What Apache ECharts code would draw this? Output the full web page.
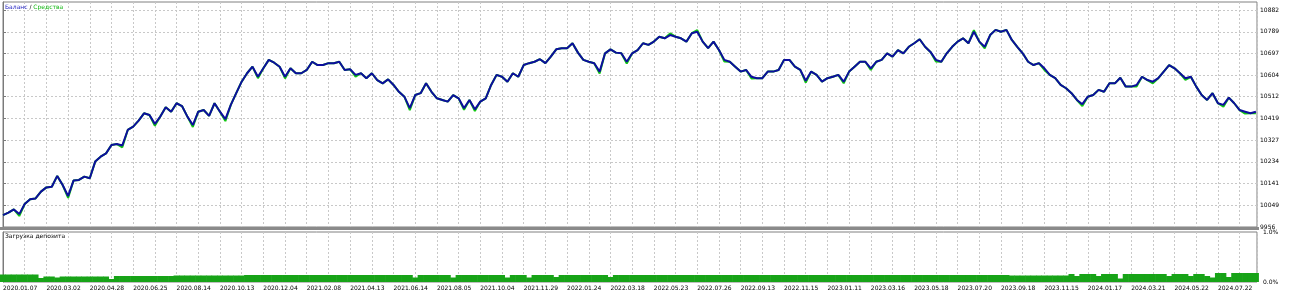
<!DOCTYPE html>
<html>
<head>
<meta charset="utf-8">
<script src="https://cdn.jsdelivr.net/npm/echarts@6/dist/echarts.min.js"></script>
<style>
  html, body { margin: 0; padding: 0; background: #fff; }
  #chart { width: 1290px; height: 294px; }
</style>
</head>
<body>
<div id="chart"></div>
<script>
// подписи дат под нижней панелью (каждая вторая вертикальная линия сетки)
const dates = ['2020.01.07', '2020.03.02', '2020.04.28', '2020.06.25', '2020.08.14', '2020.10.13', '2020.12.04',
    '2021.02.08', '2021.04.13', '2021.06.14', '2021.08.05', '2021.10.04', '2021.11.29', '2022.01.24',
    '2022.03.18', '2022.05.23', '2022.07.26', '2022.09.13', '2022.11.15', '2023.01.11', '2023.03.16',
    '2023.05.18', '2023.07.20', '2023.09.18', '2023.11.15', '2024.01.17', '2024.03.21', '2024.05.22', '2024.07.22'];

const yTicks = [9956, 10049, 10141, 10234, 10327, 10419, 10512, 10604, 10697, 10789, 10882];
const loadTicks = [0, 1];

const balance = [
    10007, 10017, 10031, 10011, 10054, 10074, 10078, 10107, 10125, 10128,
    10174, 10135, 10088, 10154, 10157, 10171, 10164, 10235, 10256, 10270,
    10306, 10310, 10304, 10370, 10384, 10410, 10441, 10434, 10396, 10427,
    10467, 10448, 10484, 10472, 10427, 10391, 10448, 10455, 10430, 10484,
    10448, 10416, 10477, 10527, 10576, 10612, 10640, 10597, 10633, 10669,
    10657, 10640, 10597, 10633, 10612, 10612, 10626, 10661, 10647, 10647,
    10655, 10655, 10661, 10626, 10629, 10605, 10612, 10591, 10612, 10583,
    10569, 10586, 10562, 10533, 10512, 10463, 10519, 10527, 10569, 10533,
    10505, 10498, 10491, 10519, 10505, 10463, 10498, 10458, 10491, 10505,
    10562, 10605, 10597, 10576, 10612, 10597, 10647, 10655, 10661, 10672,
    10655, 10683, 10714, 10719, 10719, 10740, 10700, 10669, 10661, 10655,
    10619, 10697, 10714, 10700, 10697, 10661, 10697, 10711, 10740, 10733,
    10747, 10768, 10761, 10775, 10768, 10761, 10747, 10783, 10789, 10747,
    10719, 10747, 10711, 10669, 10661, 10640, 10619, 10626, 10597, 10591,
    10591, 10619, 10619, 10626, 10669, 10669, 10640, 10626, 10580, 10619,
    10605, 10576, 10591, 10597, 10605, 10576, 10619, 10640, 10661, 10661,
    10633, 10661, 10669, 10697, 10683, 10711, 10697, 10725, 10740, 10757,
    10725, 10703, 10669, 10661, 10697, 10725, 10747, 10761, 10740, 10789,
    10747, 10725, 10775, 10797, 10789, 10797, 10754, 10725, 10697, 10661,
    10647, 10655, 10633, 10605, 10591, 10562, 10548, 10527, 10498, 10480,
    10512, 10519, 10541, 10533, 10569, 10569, 10593, 10555, 10555, 10562,
    10597, 10583, 10576, 10591, 10619, 10647, 10633, 10612, 10591, 10597,
    10555, 10519, 10498, 10527, 10484, 10477, 10508, 10484, 10455, 10448,
    10441, 10448
];

const equity = [
    10007, 10017, 10031, 10003, 10054, 10074, 10078, 10107, 10125, 10128,
    10174, 10135, 10080, 10154, 10157, 10171, 10164, 10235, 10256, 10270,
    10306, 10310, 10296, 10370, 10384, 10410, 10441, 10434, 10388, 10427,
    10467, 10448, 10484, 10472, 10427, 10383, 10448, 10455, 10430, 10484,
    10448, 10408, 10477, 10527, 10576, 10612, 10640, 10591, 10633, 10669,
    10657, 10640, 10590, 10633, 10612, 10612, 10626, 10661, 10647, 10647,
    10655, 10655, 10661, 10626, 10629, 10598, 10612, 10591, 10612, 10583,
    10569, 10586, 10562, 10533, 10512, 10455, 10519, 10527, 10569, 10533,
    10505, 10498, 10491, 10519, 10505, 10456, 10498, 10451, 10491, 10505,
    10562, 10605, 10597, 10576, 10612, 10597, 10647, 10655, 10661, 10672,
    10655, 10683, 10714, 10719, 10719, 10740, 10700, 10669, 10661, 10655,
    10611, 10697, 10714, 10700, 10697, 10654, 10697, 10711, 10740, 10733,
    10747, 10768, 10761, 10782, 10768, 10761, 10747, 10783, 10796, 10747,
    10719, 10747, 10711, 10662, 10661, 10640, 10619, 10626, 10590, 10591,
    10591, 10619, 10619, 10626, 10669, 10669, 10640, 10626, 10572, 10619,
    10605, 10576, 10591, 10597, 10605, 10569, 10619, 10640, 10661, 10661,
    10626, 10661, 10669, 10697, 10683, 10711, 10697, 10725, 10740, 10757,
    10725, 10703, 10662, 10661, 10697, 10725, 10747, 10761, 10740, 10796,
    10747, 10718, 10775, 10797, 10789, 10797, 10754, 10725, 10697, 10661,
    10647, 10655, 10626, 10605, 10591, 10562, 10548, 10527, 10498, 10472,
    10512, 10519, 10541, 10533, 10569, 10569, 10593, 10555, 10555, 10555,
    10597, 10583, 10569, 10591, 10619, 10647, 10633, 10612, 10584, 10597,
    10555, 10519, 10498, 10527, 10484, 10469, 10508, 10484, 10455, 10440,
    10441, 10441
];

// загрузка депозита, %
const load = [
    0.15, 0.15, 0.15, 0.15, 0.15, 0.15, 0.15, 0.08, 0.11, 0.11,
    0.09, 0.11, 0.11, 0.11, 0.11, 0.11, 0.11, 0.11, 0.11, 0.11,
    0.06, 0.12, 0.12, 0.12, 0.12, 0.12, 0.12, 0.12, 0.12, 0.12,
    0.12, 0.12, 0.13, 0.13, 0.13, 0.13, 0.13, 0.13, 0.13, 0.13,
    0.13, 0.13, 0.13, 0.13, 0.13, 0.14, 0.14, 0.14, 0.14, 0.14,
    0.14, 0.14, 0.14, 0.14, 0.14, 0.14, 0.14, 0.14, 0.14, 0.14,
    0.14, 0.14, 0.14, 0.14, 0.14, 0.14, 0.14, 0.14, 0.14, 0.14,
    0.14, 0.14, 0.14, 0.14, 0.14, 0.14, 0.09, 0.14, 0.14, 0.14,
    0.14, 0.14, 0.14, 0.09, 0.14, 0.14, 0.14, 0.14, 0.14, 0.14,
    0.14, 0.14, 0.14, 0.09, 0.14, 0.14, 0.14, 0.09, 0.14, 0.14,
    0.14, 0.14, 0.10, 0.14, 0.14, 0.14, 0.14, 0.14, 0.14, 0.14,
    0.14, 0.14, 0.10, 0.14, 0.14, 0.14, 0.14, 0.14, 0.14, 0.14,
    0.14, 0.14, 0.14, 0.14, 0.14, 0.14, 0.14, 0.14, 0.14, 0.14,
    0.14, 0.14, 0.14, 0.14, 0.14, 0.14, 0.14, 0.14, 0.14, 0.14,
    0.14, 0.14, 0.14, 0.14, 0.14, 0.14, 0.14, 0.14, 0.14, 0.14,
    0.14, 0.14, 0.14, 0.14, 0.14, 0.14, 0.14, 0.14, 0.14, 0.14,
    0.14, 0.14, 0.14, 0.14, 0.14, 0.14, 0.14, 0.14, 0.14, 0.14,
    0.14, 0.14, 0.14, 0.14, 0.14, 0.14, 0.14, 0.14, 0.14, 0.14,
    0.14, 0.14, 0.14, 0.14, 0.14, 0.14, 0.13, 0.13, 0.13, 0.13,
    0.13, 0.13, 0.13, 0.13, 0.13, 0.13, 0.13, 0.16, 0.12, 0.16,
    0.16, 0.16, 0.12, 0.16, 0.16, 0.16, 0.07, 0.16, 0.16, 0.16,
    0.16, 0.16, 0.16, 0.16, 0.16, 0.12, 0.16, 0.16, 0.16, 0.12,
    0.16, 0.16, 0.12, 0.09, 0.18, 0.18, 0.10, 0.18, 0.18, 0.18,
    0.18, 0.18
];

const FONT = 'DejaVu Sans';
const gridLine = { show: true, lineStyle: { color: '#c8c8c8', type: [2, 2], width: 1 } };

function xAxisFor(gridIndex, withLabels) {
    return {
        type: 'value',
        gridIndex: gridIndex,
        min: 0,
        max: 231.2,
        interval: 4,
        axisLine: { show: false },
        axisTick: { show: false },
        splitLine: gridLine,
        axisLabel: {
            show: withLabels,
            showMinLabel: true,
            showMaxLabel: false,
            align: 'left',
            margin: 3,
            fontFamily: FONT,
            fontSize: 6,
            color: '#000',
            formatter: v => (v % 8 === 0 && dates[v / 8]) ? dates[v / 8] : ''
        }
    };
}

const chart = echarts.init(document.getElementById('chart'), null, { renderer: 'canvas' });

const option = {
    animation: false,
    backgroundColor: '#fff',
    grid: [
        { left: 3, right: 33, top: 2, height: 225, show: true, borderColor: '#808080', borderWidth: 1 },
        { left: 3, right: 33, top: 232, height: 50, show: true, borderColor: '#808080', borderWidth: 1 }
    ],
    xAxis: [xAxisFor(0, false), xAxisFor(1, true)],
    yAxis: [
        {
            type: 'value',
            gridIndex: 0,
            position: 'right',
            min: 9956,
            max: 10916,
            axisLine: { show: true, lineStyle: { color: '#7a7a7a', width: 1 } },
            axisTick: { show: true, length: 3, customValues: yTicks, lineStyle: { color: '#7a7a7a' } },
            axisLabel: {
                customValues: yTicks,
                margin: 3,
                fontFamily: FONT,
                fontSize: 6,
                color: '#000',
                formatter: v => String(Math.round(v))
            },
            splitLine: gridLine
        },
        {
            type: 'value',
            gridIndex: 1,
            position: 'right',
            min: 0,
            max: 1,
            axisLine: { show: true, lineStyle: { color: '#7a7a7a', width: 1 } },
            axisTick: { show: false, customValues: loadTicks },
            axisLabel: {
                customValues: loadTicks,
                margin: 6,
                fontFamily: FONT,
                fontSize: 6,
                color: '#000',
                formatter: v => v.toFixed(1) + '%'
            },
            splitLine: { show: false }
        }
    ],
    series: [
        {
            name: 'Средства',
            type: 'line',
            xAxisIndex: 0,
            yAxisIndex: 0,
            showSymbol: false,
            data: equity.map((v, i) => [i, v]),
            lineStyle: { color: '#11c811', width: 2 },
            z: 2
        },
        {
            name: 'Баланс',
            type: 'line',
            xAxisIndex: 0,
            yAxisIndex: 0,
            showSymbol: false,
            data: balance.map((v, i) => [i, v]),
            lineStyle: { color: '#0d0d9e', width: 2 },
            z: 3
        },
        {
            name: 'Загрузка депозита',
            type: 'bar',
            xAxisIndex: 1,
            yAxisIndex: 1,
            barWidth: 6,
            data: load.map((v, i) => [i, v]),
            itemStyle: { color: '#17a317' }
        }
    ],
    graphic: [
        {
            type: 'rect',
            shape: { x: 0, y: 227, width: 1259, height: 3 },
            style: { fill: '#8a8a8a' },
            z: 100
        },
        {
            type: 'text',
            left: 5,
            top: 4,
            style: {
                text: '{b|Баланс} {s|/} {g|Средства}',
                font: '6px ' + FONT,
                rich: {
                    b: { fill: '#1c1cc0', font: '6px ' + FONT },
                    s: { fill: '#000', font: '6px ' + FONT },
                    g: { fill: '#13b813', font: '6px ' + FONT }
                }
            },
            z: 100
        },
        {
            type: 'text',
            left: 5,
            top: 233,
            style: { text: 'Загрузка депозита', font: '6px ' + FONT, fill: '#000' },
            z: 100
        }
    ]
};

chart.setOption(option);
</script>
</body>
</html>
